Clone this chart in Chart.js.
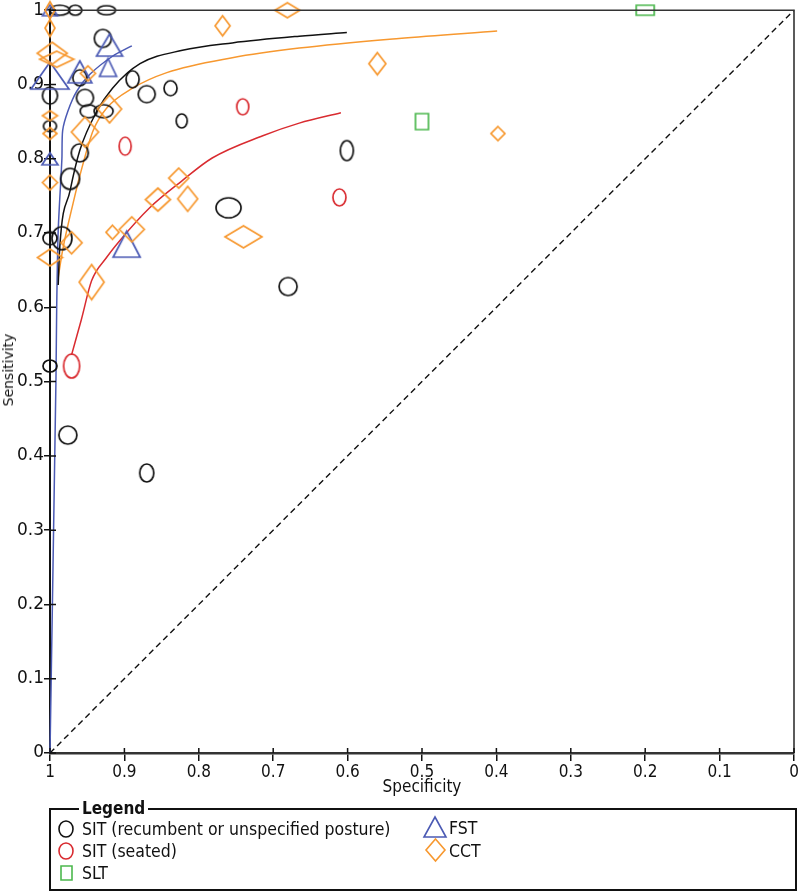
<!DOCTYPE html>
<html>
<head>
<meta charset="utf-8">
<script src="https://cdn.jsdelivr.net/npm/chart.js@4/dist/chart.umd.min.js"></script>
<style>
  html, body { margin: 0; padding: 0; background: #fff; }
  #wrap { position: relative; width: 800px; height: 892px; overflow: hidden; }
  #chartBox { position: absolute; left: 0; top: 0; width: 800px; height: 800px; }
  #ytitle { position: absolute; left: 8px; top: 370px; transform: translate(-50%, -50%) rotate(-90deg);
    font: 14px "DejaVu Sans", sans-serif; white-space: nowrap; color: #111; }
  #legendBox { position: absolute; left: 49px; top: 808px; width: 748px; height: 83px;
    box-sizing: border-box; border: 2px solid #111; }
  .cond { font-family: "DejaVu Sans Condensed", "Liberation Sans Narrow", "DejaVu Sans", sans-serif; font-stretch: condensed; }
  #legTitle { position: absolute; left: 79px; top: 808px; transform: translateY(-50%); background: #fff;
    padding: 0 3px; font-size: 17px; font-weight: bold; color: #111; line-height: 18px; }
  .item { position: absolute; font-size: 17.5px; color: #111; line-height: 20px; transform: translateY(-50%); white-space: nowrap; }
  .sym { position: absolute; }
</style>
</head>
<body>
<div id="wrap">
  <div id="chartBox"><canvas id="c" width="800" height="800"></canvas></div>
  <div id="ytitle">Sensitivity</div>
  <div id="legendBox"></div>
  <div id="legTitle" class="cond">Legend</div>
  <div id="legendItems"></div>
</div>
<script>
// ---------------- data ----------------
const tickLabels = ['0', '0.1', '0.2', '0.3', '0.4', '0.5', '0.6', '0.7', '0.8', '0.9', '1'];
const seriesNames = ['SIT (recumbent or unspecified posture)', 'SIT (seated)', 'SLT', 'FST', 'CCT'];

// SIT (recumbent or unspecified posture) – study points
const sitSpec = [0.987, 0.966, 0.924, 0.929, 0.889, 0.960, 0.953, 0.948, 0.928, 0.870, 0.838, 0.823,
                 1.000, 1.000, 0.960, 0.973, 0.984, 1.000, 0.760, 0.680, 1.000, 0.976, 0.870, 0.601];
const sitSens = [1.000, 1.000, 1.000, 0.962, 0.907, 0.909, 0.882, 0.864, 0.864, 0.887, 0.895, 0.851,
                 0.885, 0.844, 0.808, 0.773, 0.693, 0.693, 0.734, 0.628, 0.521, 0.428, 0.377, 0.811];
// SIT (seated)
const seatedSpec = [0.741, 0.899, 0.611, 0.971];
const seatedSens = [0.870, 0.817, 0.748, 0.521];
// SLT
const sltSpec = [0.200, 0.500];
const sltSens = [1.000, 0.850];
// FST
const fstSpec = [1.000, 1.000, 0.960, 0.920, 0.922, 1.000, 0.897];
const fstSens = [1.000, 0.912, 0.917, 0.953, 0.923, 0.800, 0.685];
// CCT
const cctSpec = [1.000, 1.000, 0.997, 0.991, 0.949, 1.000, 1.000, 0.953, 0.920, 1.000, 0.768, 0.681,
                 0.560, 0.398, 0.971, 1.000, 0.944, 0.916, 0.890, 0.855, 0.827, 0.815, 0.740];
const cctSens = [1.000, 0.976, 0.942, 0.934, 0.915, 0.858, 0.834, 0.836, 0.867, 0.768, 0.979, 1.000,
                 0.928, 0.834, 0.687, 0.667, 0.634, 0.701, 0.705, 0.745, 0.774, 0.746, 0.695];

// summary ROC curves
const sitCurveSpec = [0.989, 0.987, 0.973, 0.960, 0.937, 0.916, 0.879, 0.822, 0.755, 0.665, 0.601];
const sitCurveSens = [0.630, 0.679, 0.757, 0.811, 0.864, 0.895, 0.928, 0.946, 0.956, 0.965, 0.970];
const seatedCurveSpec = [0.971, 0.958, 0.944, 0.924, 0.906, 0.866, 0.823, 0.782, 0.714, 0.665, 0.609];
const seatedCurveSens = [0.536, 0.583, 0.636, 0.667, 0.690, 0.734, 0.770, 0.801, 0.831, 0.848, 0.862];
const fstCurveSpec = [1.000, 0.992, 0.991, 0.989, 0.984, 0.983, 0.976, 0.964, 0.946, 0.916, 0.890];
const fstCurveSens = [0.000, 0.502, 0.600, 0.703, 0.800, 0.838, 0.864, 0.891, 0.914, 0.938, 0.952];
const cctCurveSpec = [0.989, 0.983, 0.969, 0.957, 0.942, 0.924, 0.889, 0.843, 0.755, 0.665, 0.531, 0.399];
const cctCurveSens = [0.640, 0.677, 0.740, 0.788, 0.838, 0.868, 0.895, 0.916, 0.936, 0.949, 0.962, 0.972];

// chance line
const chanceSpec = [1, 0];
const chanceSens = [0, 1];

// ---------------- marker sizes (px, width x height) ----------------
const sitMarkW = [20, 13, 18, 17, 13, 14, 17, 17, 19, 17, 13, 11, 15, 13, 17, 19, 20, 14, 25, 18, 14, 18, 14, 13];
const sitMarkH = [10, 10, 9, 18, 17, 16, 17, 13, 13, 17, 15, 14, 17, 11, 18, 21, 23, 13, 20, 18, 12, 18, 18, 20];
const seatedMarkW = [12, 12, 13, 16];
const seatedMarkH = [16, 18, 17, 24];
const sltMarkW = [18, 13];
const sltMarkH = [10, 16];
const fstMarkW = [15, 38, 24, 26, 17, 16, 27];
const fstMarkH = [11, 27, 22, 22, 18, 12, 26];
const cctMarkW = [10, 10, 30, 34, 15, 15, 14, 27, 24, 15, 15, 25, 17, 14, 21, 25, 25, 13, 25, 25, 20, 20, 37];
const cctMarkH = [17, 17, 22, 16, 15, 10, 12, 30, 28, 15, 20, 15, 22, 14, 22, 17, 35, 14, 25, 23, 20, 25, 22];

// ---------------- styles ----------------
const COL = { sit: '#111111', seated: '#D92B30', slt: '#4CB84E', fst: '#4B5AB4', cct: '#F7982F' };
const CONDENSED = '"DejaVu Sans Condensed", "Liberation Sans Narrow", "DejaVu Sans", sans-serif';

function marker(shape, w, h, color, lw) {
  const c = document.createElement('canvas');
  const pad = 2;
  c.width = Math.round(w + pad * 2);
  c.height = Math.round(h + pad * 2);
  const g = c.getContext('2d');
  g.strokeStyle = color;
  g.lineWidth = lw;
  g.lineJoin = 'miter';
  const cx = c.width / 2, cy = c.height / 2;
  g.beginPath();
  if (shape === 'ellipse') {
    g.ellipse(cx, cy, w / 2, h / 2, 0, 0, Math.PI * 2);
  } else if (shape === 'diamond') {
    g.moveTo(cx, cy - h / 2); g.lineTo(cx + w / 2, cy); g.lineTo(cx, cy + h / 2); g.lineTo(cx - w / 2, cy); g.closePath();
  } else if (shape === 'triangle') {
    g.moveTo(cx, cy - h / 2); g.lineTo(cx + w / 2, cy + h / 2); g.lineTo(cx - w / 2, cy + h / 2); g.closePath();
  } else {
    g.rect(cx - w / 2, cy - h / 2, w, h);
  }
  g.stroke();
  return c;
}

function pts(xs, ys) { return xs.map((x, i) => ({ x: x, y: ys[i] })); }

function studySet(label, xs, ys, ws, hs, shape, color) {
  return {
    label: label,
    data: pts(xs, ys),
    pointStyle: xs.map((_, i) => marker(shape, ws[i], hs[i], color, 1.7)),
    pointRadius: 5,
    borderColor: color,
    backgroundColor: 'transparent',
    showLine: false,
    clip: false
  };
}

function curveSet(label, xs, ys, color, extra) {
  return Object.assign({
    label: label,
    data: pts(xs, ys),
    showLine: true,
    pointRadius: 0,
    borderColor: color,
    borderWidth: 1.5,
    cubicInterpolationMode: 'monotone',
    fill: false,
    clip: false
  }, extra || {});
}

const datasets = [
  studySet(seriesNames[4], cctSpec, cctSens, cctMarkW, cctMarkH, 'diamond', COL.cct),
  studySet(seriesNames[3], fstSpec, fstSens, fstMarkW, fstMarkH, 'triangle', COL.fst),
  studySet(seriesNames[0], sitSpec, sitSens, sitMarkW, sitMarkH, 'ellipse', COL.sit),
  studySet(seriesNames[1], seatedSpec, seatedSens, seatedMarkW, seatedMarkH, 'ellipse', COL.seated),
  studySet(seriesNames[2], sltSpec, sltSens, sltMarkW, sltMarkH, 'rect', COL.slt),
  curveSet('SIT curve', sitCurveSpec, sitCurveSens, COL.sit),
  curveSet('SIT seated curve', seatedCurveSpec, seatedCurveSens, COL.seated),
  curveSet('FST curve', fstCurveSpec, fstCurveSens, COL.fst, { cubicInterpolationMode: 'default', tension: 0.25 }),
  curveSet('CCT curve', cctCurveSpec, cctCurveSens, COL.cct),
  curveSet('chance', chanceSpec, chanceSens, '#111', { cubicInterpolationMode: 'default', tension: 0, borderDash: [6, 4], borderWidth: 1.4 })
];

const frame = {
  id: 'frame',
  afterDraw(chart) {
    const { ctx, chartArea: a, scales } = chart;
    ctx.save();
    ctx.strokeStyle = '#333';
    ctx.lineWidth = 1.6;
    ctx.beginPath();
    ctx.moveTo(a.left, a.top);
    ctx.lineTo(a.right, a.top);
    ctx.lineTo(a.right, a.bottom);
    ctx.stroke();
    ctx.strokeStyle = '#111';
    ctx.lineWidth = 1.5;
    ctx.beginPath();
    scales.y.ticks.forEach(t => {
      const py = scales.y.getPixelForValue(t.value);
      ctx.moveTo(a.left, py); ctx.lineTo(a.left + 6, py);
    });
    scales.x.ticks.forEach(t => {
      const px = scales.x.getPixelForValue(t.value);
      ctx.moveTo(px, a.bottom); ctx.lineTo(px, a.bottom - 5);
    });
    ctx.stroke();
    ctx.restore();
  }
};

const labelFor = v => tickLabels[Math.round(v * 10)];

new Chart(document.getElementById('c'), {
  type: 'scatter',
  data: { datasets: datasets },
  options: {
    responsive: false,
    animation: false,
    devicePixelRatio: 1,
    events: [],
    layout: { padding: { top: 9, right: 4, left: 0, bottom: 0 } },
    plugins: { legend: { display: false }, tooltip: { enabled: false } },
    scales: {
      x: {
        type: 'linear', reverse: true, min: 0, max: 1,
        afterFit: s => { s.height = 47; },
        ticks: { stepSize: 0.1, callback: labelFor, color: '#111', padding: 1, maxRotation: 0,
                 font: { family: CONDENSED, size: 17 } },
        grid: { drawOnChartArea: false, tickLength: 8, color: '#111', lineWidth: 1.5 },
        border: { color: '#333', width: 2.5 },
        title: { display: true, text: 'Specificity', color: '#111', padding: { top: 0, bottom: 2 },
                 font: { family: CONDENSED, size: 17 } }
      },
      y: {
        type: 'linear', min: 0, max: 1,
        afterFit: s => { s.width = 50; },
        ticks: { stepSize: 0.1, callback: labelFor, color: '#111', padding: 0,
                 font: { family: '"DejaVu Sans", sans-serif', size: 17 } },
        grid: { drawOnChartArea: false, tickLength: 6, color: '#111', lineWidth: 1.5 },
        border: { color: '#111', width: 2 },
        title: { display: false }
      }
    }
  },
  plugins: [frame]
});

// ---------------- HTML legend ----------------
const legendEntries = [
  { name: seriesNames[0], shape: 'ellipse', color: COL.sit, w: 14, h: 16, sx: 66, tx: 82, y: 829 },
  { name: seriesNames[1], shape: 'ellipse', color: COL.seated, w: 14, h: 16, sx: 66, tx: 82, y: 851 },
  { name: seriesNames[2], shape: 'rect', color: COL.slt, w: 11, h: 14, sx: 66, tx: 82, y: 873 },
  { name: seriesNames[3], shape: 'triangle', color: COL.fst, w: 22, h: 20, sx: 435, tx: 449, y: 827 },
  { name: seriesNames[4], shape: 'diamond', color: COL.cct, w: 19, h: 22, sx: 435, tx: 449, y: 850 }
];
const holder = document.getElementById('legendItems');
legendEntries.forEach(e => {
  const m = marker(e.shape, e.w, e.h, e.color, 1.6);
  m.className = 'sym';
  m.style.left = (e.sx - m.width / 2) + 'px';
  m.style.top = (e.y - m.height / 2) + 'px';
  holder.appendChild(m);
  const t = document.createElement('div');
  t.className = 'item cond';
  t.style.left = e.tx + 'px';
  t.style.top = (e.y + (e.sx > 100 ? 1 : 0)) + 'px';
  t.textContent = e.name;
  holder.appendChild(t);
});
</script>
</body>
</html>
